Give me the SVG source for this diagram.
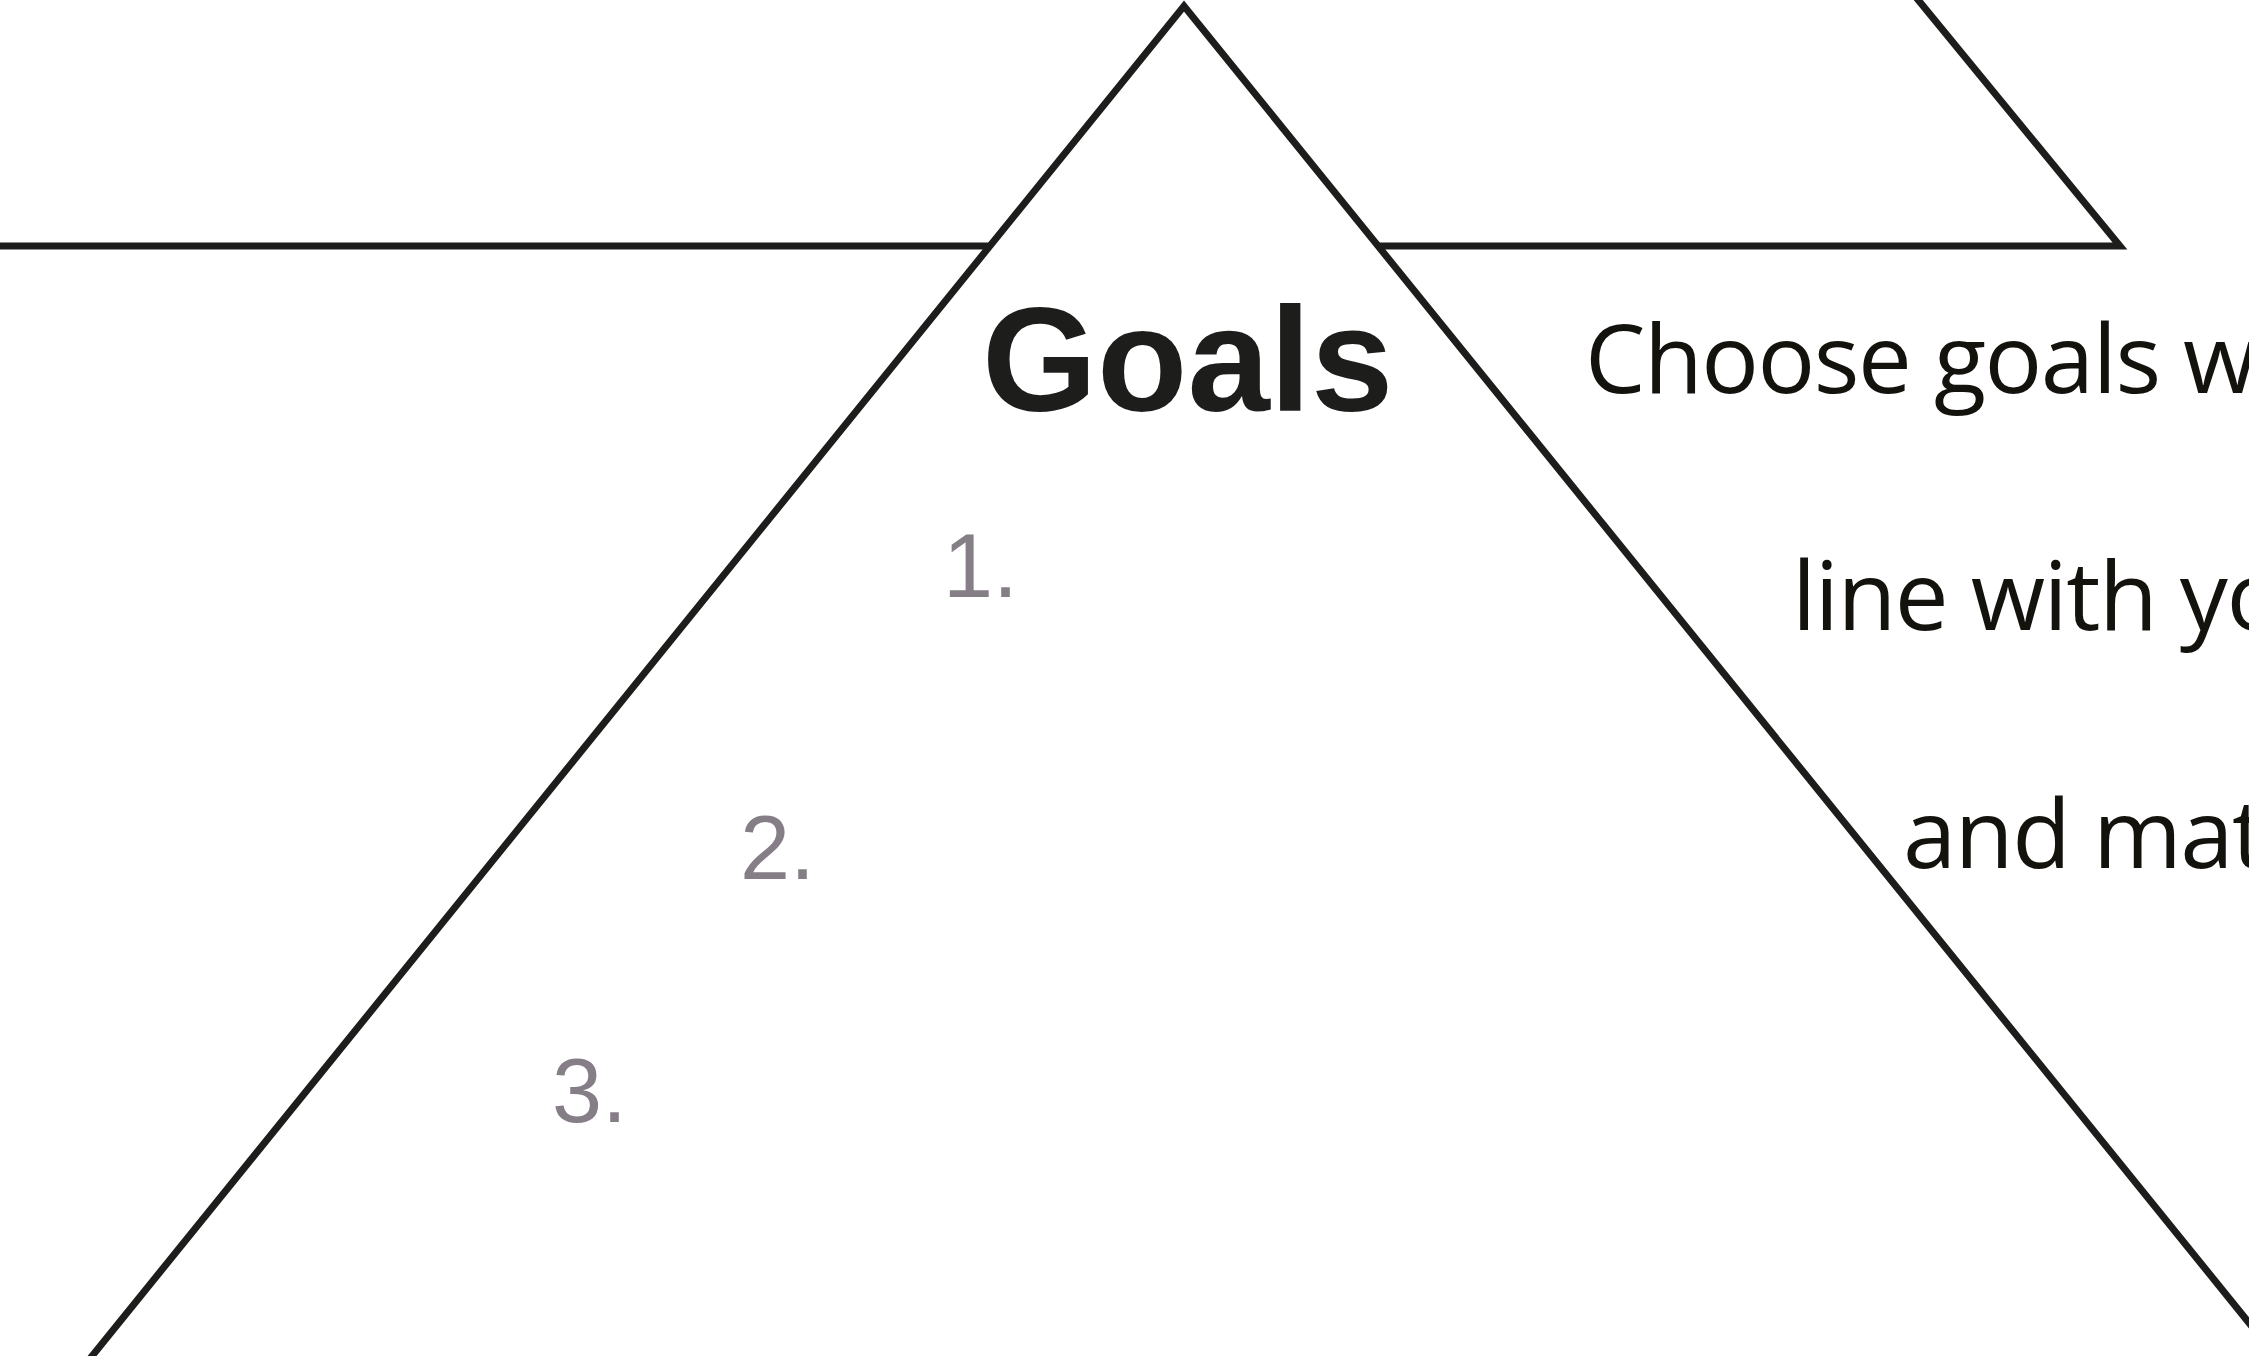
<svg xmlns="http://www.w3.org/2000/svg" width="2249" height="1356" viewBox="0 0 2249 1356">
  <style>
    .ln { fill: none; stroke: #1d1d1b; stroke-width: 7; stroke-linejoin: miter; stroke-miterlimit: 10; }
    .title { font-family: "Liberation Sans", Arial, sans-serif; font-weight: bold; font-size: 148px; fill: #1d1d1b; }
    .num { font-family: "Liberation Sans", Arial, sans-serif; font-size: 90px; fill: #857e86; }
    .desc { font-family: "Open Sans", "Noto Sans", sans-serif; font-size: 96px; letter-spacing: -1.5px; fill: #14120d; }
  </style>
  <rect x="0" y="0" width="2249" height="1356" fill="#ffffff"/>
  <g id="connectors">
    <polyline class="ln" points="84,1366 1184,6 2292,1376"/>
    <line class="ln" x1="-5" y1="246" x2="990" y2="246"/>
    <polyline class="ln" points="1378,246 2120,246 1910,-10"/>
  </g>
  <g id="goals-title">
    <text class="title" x="982" y="411">Goals</text>
  </g>
  <g id="goal-1">
    <text class="num" x="943" y="597">1.</text>
  </g>
  <g id="goal-2">
    <text class="num" x="740" y="879">2.</text>
  </g>
  <g id="goal-3">
    <text class="num" x="552" y="1122">3.</text>
  </g>
  <g id="description">
    <text class="desc" x="1585" y="393">Choose goals w</text>
    <text class="desc" x="1792" y="630">line with yo</text>
    <text class="desc" x="1903" y="868">and mat</text>
  </g>
</svg>
